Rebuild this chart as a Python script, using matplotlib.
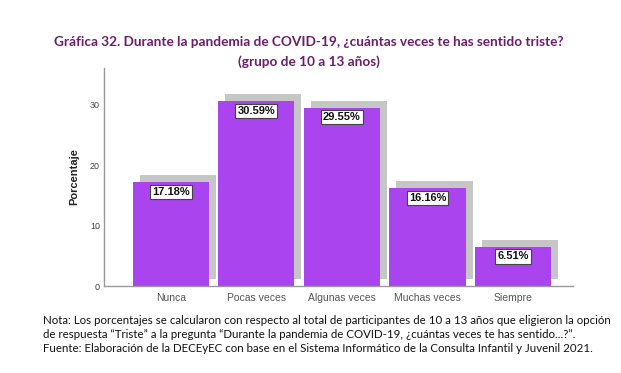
import matplotlib
matplotlib.use("Agg")
import matplotlib.pyplot as plt
import matplotlib.patheffects as pe
import numpy as np

categorias = ["Nunca", "Pocas veces", "Algunas veces", "Muchas veces", "Siempre"]
porcentajes = [17.18, 30.59, 29.55, 16.16, 6.51]
etiquetas = ["17.18%", "30.59%", "29.55%", "16.16%", "6.51%"]
yticks = [0, 10, 20, 30]

titulo = ["Gráfica 32. Durante la pandemia de COVID-19, ¿cuántas veces te has sentido triste?",
          "(grupo de 10 a 13 años)"]
notas = [
    "Nota: Los porcentajes se calcularon con respecto al total de participantes de 10 a 13 años que eligieron la opción",
    "de respuesta “Triste” a la pregunta “Durante la pandemia de COVID-19, ¿cuántas veces te has sentido...?”.",
    "Fuente: Elaboración de la DECEyEC con base en el Sistema Informático de la Consulta Infantil y Juvenil 2021.",
]

morado = "#a944ef"
sombra = "#c6c6c6"
arial = ["Liberation Sans", "DejaVu Sans"]
calibri = ["Lato", "DejaVu Sans"]

fig = plt.figure(figsize=(6.21, 3.73), dpi=100)
ax = fig.add_axes([0.1675, 0.2332, 0.7552, 0.5845])

x = np.arange(len(categorias))
bars = ax.bar(x, porcentajes, width=0.89, color=morado, zorder=2)
for b in bars:
    b.set_path_effects([pe.SimplePatchShadow(offset=(5, 5), shadow_rgbFace=sombra, alpha=1.0),
                        pe.Normal()])

for xi, v, t in zip(x, porcentajes, etiquetas):
    ax.annotate(t, (xi, v), xytext=(0, -7), textcoords="offset points",
                ha="center", va="center", fontsize=8, fontweight="bold",
                family=arial, color="#111111", zorder=4,
                bbox=dict(boxstyle="square,pad=0.2", fc="white", ec="#444444", lw=0.8))

ax.set_xlim(-0.78, 4.70)
ax.set_ylim(0, 36.1)
ax.set_yticks(yticks)
ax.set_yticklabels([str(v) for v in yticks], fontsize=6.5, family=arial, color="#444444")
ax.set_xticks(x)
ax.set_xticklabels(categorias, fontsize=7.5, family=arial, color="#555555")
ax.tick_params(axis="both", length=0)
ax.tick_params(axis="x", pad=5)
ax.tick_params(axis="y", pad=3)

for s in ["top", "right"]:
    ax.spines[s].set_visible(False)
for s in ["left", "bottom"]:
    ax.spines[s].set_color("#999999")
    ax.spines[s].set_linewidth(1.0)

ax.set_ylabel("Porcentaje", fontsize=8, fontweight="bold", family=arial, color="#222222")
ax.yaxis.set_label_coords(-0.053, 0.5)

for i, linea in enumerate(titulo):
    fig.text(0.497, 1 - (42 + i * 20) / 373, linea, ha="center", va="center", fontsize=9.8,
             fontweight="bold", family=calibri, color="#6b1e6b")

for i, linea in enumerate(notas):
    fig.text(0.069, 1 - (321 + i * 13.5) / 373, linea, ha="left", va="center",
             fontsize=8.3, family=calibri, color="#111111")

fig.savefig("out.png", dpi=100)
